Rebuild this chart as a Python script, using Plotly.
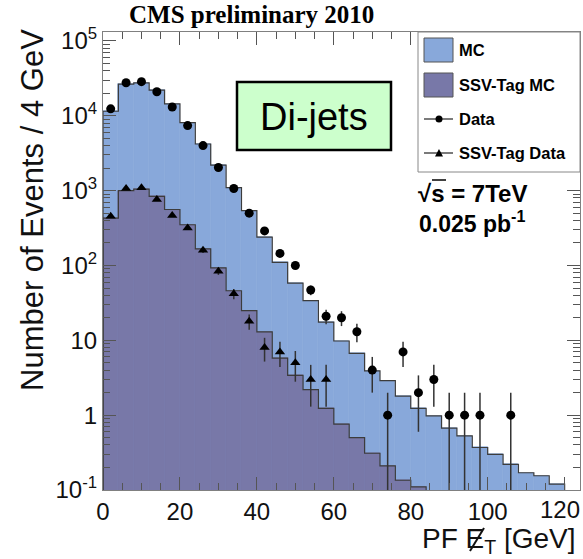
import plotly.graph_objects as go

# ---------------- data ----------------
bin_edges = [0, 4, 8, 12, 16, 20, 24, 28, 32, 36, 40, 44, 48, 52, 56, 60,
             64, 68, 72, 76, 80, 84, 88, 92, 96, 100, 104, 108, 112, 116, 120]
bin_centers = [2, 6, 10, 14, 18, 22, 26, 30, 34, 38, 42, 46, 50, 54, 58, 62,
               66, 70, 74, 78, 82, 86, 90, 94, 98, 102, 106, 110, 114, 118]

mc_counts = [11500, 26500, 27500, 22000, 14400, 8100, 4200, 2200, 1100, 540,
             240, 110, 58, 34, 17.5, 9.8, 6.7, 3.9, 2.9, 1.8,
             1.23, 0.98, 0.67, 0.53, 0.37, 0.30, 0.22, 0.17, 0.155, 0.12]

ssv_mc_edges = [0, 4, 8, 12, 16, 20, 24, 28, 32, 36, 40, 44, 48, 52, 56, 60,
                64, 68, 72, 76, 80, 84]
ssv_mc_centers = [2, 6, 10, 14, 18, 22, 26, 30, 34, 38, 42, 46, 50, 54, 58,
                  62, 66, 70, 74, 78, 82]
ssv_mc_counts = [430, 1000, 1050, 840, 560, 350, 167, 93, 46, 25,
                 13, 5.8, 3.4, 2.2, 1.23, 0.76, 0.50, 0.31, 0.21, 0.135, 0.11]

data_x = [2, 6, 10, 14, 18, 22, 26, 30, 34, 38, 42, 46, 50, 54, 58, 62, 66,
          70, 74, 78, 82, 86, 90, 94, 98, 106]
data_y = [12400, 27700, 28600, 21000, 13100, 7400, 4000, 2040, 1070, 500,
          290, 145, 100, 47, 21, 20, 13, 4, 1, 7, 2, 3, 1, 1, 1, 1]
data_err = [111, 166, 169, 145, 114, 86, 63, 45, 33, 22,
            17, 12, 10, 6.9, 4.6, 4.5, 3.6, 2, 1, 2.6, 1.4, 1.7, 1, 1, 1, 1]

ssv_data_x = [2, 6, 10, 14, 18, 22, 26, 30, 34, 38, 42, 46, 50, 54, 58]
ssv_data_y = [455, 1070, 1090, 760, 465, 318, 160, 84, 42, 18, 8, 7, 5, 3, 3]
ssv_data_err = [21, 33, 33, 28, 22, 18, 13, 9.2, 6.5, 4.2, 2.8, 2.6, 2.2,
                1.7, 1.7]

y_tick_vals = [0.1, 1, 10, 100, 1000, 10000, 100000]
y_tick_text = ["10<sup>-1</sup>", "1", "10", "10<sup>2</sup>",
               "10<sup>3</sup>", "10<sup>4</sup>", "10<sup>5</sup>"]
x_tick_vals = [0, 20, 40, 60, 80, 100, 120]

# ---------------- style ----------------
W, H = 583, 559
L, R, T, B = 103, 3, 32, 69
PW, PH = W - L - R, H - T - B
FLOOR = 1e-3

MC_COL = "#88A8DA"
SSV_COL = "#7878A8"
EDGE = "#3c3c3c"
AX = "#808080"
FONT = "Liberation Sans, Arial, Helvetica, sans-serif"


def px(x):
    return (x - L) / PW


def py(y):
    return (H - B - y) / PH


fig = go.Figure()

fig.add_trace(go.Bar(x=bin_centers, y=mc_counts, width=4,
                     marker=dict(color=MC_COL, line=dict(color=MC_COL, width=0.6)),
                     hoverinfo="skip"))
fig.add_trace(go.Scatter(x=[bin_edges[0]] + bin_edges + [bin_edges[-1]],
                         y=[FLOOR] + mc_counts + [mc_counts[-1], FLOOR],
                         mode="lines", line=dict(color=EDGE, width=1.2, shape="hv"),
                         hoverinfo="skip"))
fig.add_trace(go.Bar(x=ssv_mc_centers, y=ssv_mc_counts, width=4,
                     marker=dict(color=SSV_COL, line=dict(color=SSV_COL, width=0.6)),
                     hoverinfo="skip"))
fig.add_trace(go.Scatter(x=[ssv_mc_edges[0]] + ssv_mc_edges + [ssv_mc_edges[-1]],
                         y=[FLOOR] + ssv_mc_counts + [ssv_mc_counts[-1], FLOOR],
                         mode="lines", line=dict(color=EDGE, width=1.2, shape="hv"),
                         hoverinfo="skip"))
fig.add_trace(go.Scatter(x=data_x, y=data_y, mode="markers",
                         marker=dict(symbol="circle", size=9, color="black"),
                         error_y=dict(type="data", array=data_err, width=0,
                                      thickness=1.5, color="#333333"),
                         hoverinfo="skip"))
fig.add_trace(go.Scatter(x=ssv_data_x, y=ssv_data_y, mode="markers",
                         marker=dict(symbol="triangle-up", size=9, color="black"),
                         error_y=dict(type="data", array=ssv_data_err, width=0,
                                      thickness=1.5, color="#333333"),
                         hoverinfo="skip"))

minor_y = [k * 10 ** d for d in range(-1, 5) for k in range(2, 10)]

fig.update_layout(
    width=W, height=H,
    margin=dict(l=L, r=R, t=T, b=B, pad=0),
    paper_bgcolor="white", plot_bgcolor="white",
    barmode="overlay", bargap=0,
    showlegend=False,
    font=dict(family=FONT, color="#111111"),
    xaxis=dict(range=[0, 124], tickmode="array", tickvals=x_tick_vals,
               ticks="inside", ticklen=13, tickwidth=1, tickcolor="#555555",
               minor=dict(dtick=5, tick0=0, ticks="inside", ticklen=7,
                          tickwidth=1, tickcolor="#555555", showgrid=False),
               showline=True, linecolor=AX, linewidth=1.2, mirror="allticks",
               showgrid=False, zeroline=False,
               tickfont=dict(size=24, family=FONT, color="#111111")),
    yaxis=dict(type="log", range=[-1, 5.12], tickmode="array",
               tickvals=y_tick_vals, ticktext=y_tick_text,
               ticks="inside", ticklen=13, tickwidth=1, tickcolor="#555555",
               minor=dict(tickmode="array", tickvals=minor_y, ticks="inside",
                          ticklen=7, tickwidth=1, tickcolor="#555555",
                          showgrid=False),
               showline=True, linecolor=AX, linewidth=1.2, mirror="allticks",
               showgrid=False, zeroline=False,
               tickfont=dict(size=24, family=FONT, color="#111111")),
)

shapes = []
annos = []

# last x tick label (kept inside the page, right-aligned at its edge)
annos.append(dict(x=px(582), y=py(494), xref="paper", yref="paper",
                  text=str(x_tick_vals[-1]), showarrow=False,
                  font=dict(size=24, family=FONT, color="#111111"),
                  xanchor="right", yanchor="top"))

# Di-jets box
shapes.append(dict(type="rect", xref="paper", yref="paper",
                   x0=px(237), x1=px(391), y0=py(150), y1=py(82),
                   fillcolor="#CCFFCC", line=dict(color="black", width=2.5),
                   layer="above"))
annos.append(dict(x=px(314), y=py(117), xref="paper", yref="paper",
                  text="Di-jets", showarrow=False,
                  font=dict(size=38, family=FONT, color="black"),
                  xanchor="center", yanchor="middle"))

# legend box
shapes.append(dict(type="rect", xref="paper", yref="paper",
                   x0=px(418), x1=px(580), y0=py(172), y1=py(32),
                   fillcolor="white", line=dict(color="#888888", width=1),
                   layer="above"))
shapes.append(dict(type="rect", xref="paper", yref="paper",
                   x0=px(424), x1=px(453), y0=py(62), y1=py(38),
                   fillcolor=MC_COL, line=dict(color="#555555", width=1),
                   layer="above"))
shapes.append(dict(type="rect", xref="paper", yref="paper",
                   x0=px(424), x1=px(453), y0=py(97), y1=py(73),
                   fillcolor=SSV_COL, line=dict(color="#555555", width=1),
                   layer="above"))
for yy in (119, 153):
    shapes.append(dict(type="line", xref="paper", yref="paper",
                       x0=px(424), x1=px(453), y0=py(yy), y1=py(yy),
                       line=dict(color="#222222", width=1.2), layer="above"))
shapes.append(dict(type="circle", xref="paper", yref="paper",
                   x0=px(435.5), x1=px(442.5), y0=py(122.5), y1=py(115.5),
                   fillcolor="black", line=dict(color="black", width=0),
                   layer="above"))
shapes.append(dict(type="path", xref="paper", yref="paper",
                   path="M {:.5f} {:.5f} L {:.5f} {:.5f} L {:.5f} {:.5f} Z".format(
                       px(435), py(156.5), px(443), py(156.5), px(439), py(149)),
                   fillcolor="black", line=dict(color="black", width=0),
                   layer="above"))
for txt, yy in (("MC", 50), ("SSV-Tag MC", 85), ("Data", 119), ("SSV-Tag Data", 153)):
    annos.append(dict(x=px(457), y=py(yy), xref="paper", yref="paper",
                      text="<b>" + txt + "</b>", showarrow=False,
                      font=dict(size=16.5, family=FONT, color="black"),
                      xanchor="left", yanchor="middle"))

# sqrt(s) and lumi
annos.append(dict(x=px(416), y=py(193), xref="paper", yref="paper",
                  text="<b>√s = 7TeV</b>", showarrow=False,
                  font=dict(size=24, family=FONT, color="black"),
                  xanchor="left", yanchor="middle"))
shapes.append(dict(type="line", xref="paper", yref="paper",
                   x0=px(432), x1=px(446), y0=py(180), y1=py(180),
                   line=dict(color="black", width=1.5), layer="above"))
annos.append(dict(x=px(417), y=py(222), xref="paper", yref="paper",
                  text="<b>0.025 pb<sup>-1</sup></b>", showarrow=False,
                  font=dict(size=23, family=FONT, color="black"),
                  xanchor="left", yanchor="middle"))

# title
annos.append(dict(x=px(251), y=py(15), xref="paper", yref="paper",
                  text="<b>CMS preliminary 2010</b>", showarrow=False,
                  font=dict(size=25, family="Liberation Serif, Times New Roman, serif",
                            color="black"),
                  xanchor="center", yanchor="middle"))

# axis titles
annos.append(dict(x=px(32), y=py(210), xref="paper", yref="paper",
                  text="Number of Events / 4 GeV", showarrow=False, textangle=-90,
                  font=dict(size=31, family=FONT, color="#111111"),
                  xanchor="center", yanchor="middle"))
annos.append(dict(x=px(578), y=py(540), xref="paper", yref="paper",
                  text="PF E<sub>T</sub> [GeV]", showarrow=False,
                  font=dict(size=28, family=FONT, color="#111111"),
                  xanchor="right", yanchor="middle"))
# slash through the E (missing transverse energy)
shapes.append(dict(type="line", xref="paper", yref="paper",
                   x0=px(470), x1=px(484), y0=py(551), y1=py(528),
                   line=dict(color="#111111", width=2), layer="above"))

fig.update_layout(shapes=shapes, annotations=annos)
fig.write_html("out.html")
